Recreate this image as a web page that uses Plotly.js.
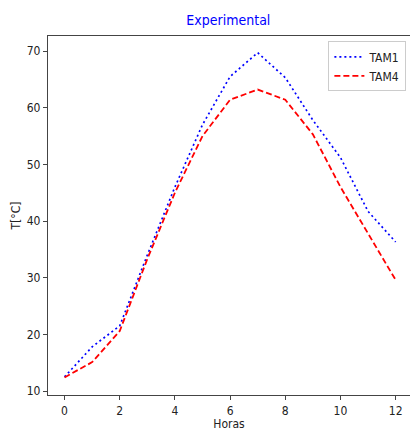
<!DOCTYPE html>
<html>
<head>
<meta charset="utf-8">
<script src="https://cdn.plot.ly/plotly-3.0.1.min.js"></script>
<style>html,body{margin:0;padding:0;background:#fff;}#chart{width:410px;height:431px;}</style>
</head>
<body>
<div id="chart"></div>
<script>
const horas = [0, 1, 2, 3, 4, 5, 6, 7, 8, 9, 10, 11, 12];
const tam1 = [12.5, 17.8, 21.5, 34, 46, 57, 65.5, 69.7, 65.3, 57.8, 51.2, 41.7, 36.3];
const tam4 = [12.4, 15.1, 20.6, 33.3, 45, 55, 61.4, 63.2, 61.4, 55.3, 46, 37.8, 29.6];
const xTicks = [0, 2, 4, 6, 8, 10, 12];
const yTicks = [10, 20, 30, 40, 50, 60, 70];

const fontFam = '"DejaVu Sans Condensed", "Liberation Sans Narrow", "Liberation Sans", sans-serif';

const traces = [
  {x: horas, y: tam1, name: 'TAM1', mode: 'lines', line: {color: 'blue', dash: '2px,3px', width: 1.7}},
  {x: horas, y: tam4, name: 'TAM4', mode: 'lines', line: {color: 'red', dash: '6px,3px', width: 1.8}}
];

const layout = {
  width: 410, height: 431,
  margin: {l: 48, r: 0, t: 36, b: 36},
  paper_bgcolor: '#fff', plot_bgcolor: '#fff',
  font: {family: fontFam, size: 12, color: '#222'},
  title: {text: 'Experimental', font: {family: fontFam, size: 14, color: 'blue'}, x: 0.557, xanchor: 'center', y: 0.953, yanchor: 'middle'},
  xaxis: {
    range: [-0.6, 12.52], tickvals: xTicks, ticktext: xTicks.map(String),
    showgrid: false, zeroline: false, showline: true, linecolor: '#444', linewidth: 1.2, mirror: true,
    ticks: 'outside', ticklen: 4, tickcolor: '#444',
    title: {text: 'Horas', font: {size: 12}, standoff: 10}
  },
  yaxis: {
    range: [9.3, 72.65], tickvals: yTicks, ticktext: yTicks.map(String),
    showgrid: false, zeroline: false, showline: true, linecolor: '#444', linewidth: 1.2, mirror: false,
    ticks: 'outside', ticklen: 4, tickcolor: '#444',
    title: {text: 'T[°C]', font: {size: 12}, standoff: 3}
  },
  legend: {
    x: 0.99, y: 0.985, xanchor: 'right', yanchor: 'top',
    bgcolor: '#fff', bordercolor: '#ccc', borderwidth: 1,
    font: {size: 12, color: '#222'}, tracegroupgap: 4
  },
  showlegend: true
};

Plotly.newPlot('chart', traces, layout, {displayModeBar: false, staticPlot: true});
</script>
</body>
</html>
